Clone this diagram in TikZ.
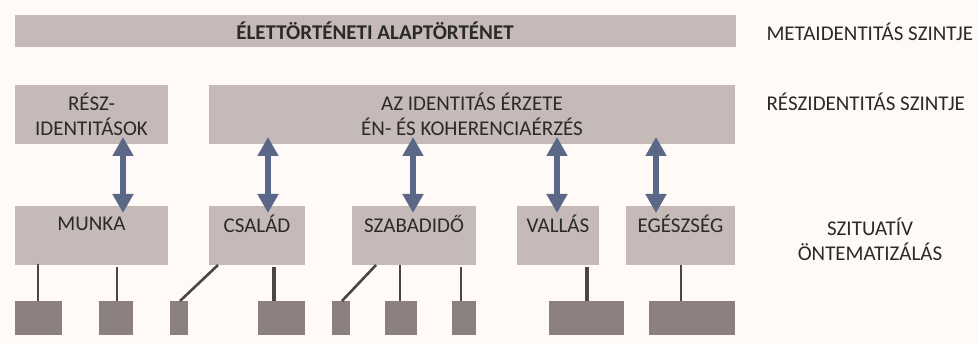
\documentclass[tikz,border=0pt]{standalone}
\usepackage{fontspec}
\setmainfont{Carlito}
\usetikzlibrary{arrows.meta}
\definecolor{bgc}{HTML}{FFFAF7}
\definecolor{boxc}{HTML}{C5BAB7}
\definecolor{darkc}{HTML}{8B807D}
\definecolor{arrc}{HTML}{5A6786}
\definecolor{linec}{HTML}{4A4644}
\definecolor{txtc}{HTML}{2A2A2A}
\begin{document}
\begin{tikzpicture}[x=1pt,y=-1pt,
  every node/.style={font=\fontsize{21}{25}\selectfont, text=txtc},
  dblarrow/.style={draw=arrc, line width=5.5pt, {Triangle[width=20pt,length=19pt]}-{Triangle[width=20pt,length=19pt]}, shorten <=-2pt, shorten >=-2pt},
  conn/.style={draw=linec, line width=2.6pt},
  conthick/.style={draw=linec, line width=3.6pt}
]
\fill[bgc] (0,0) rectangle (977,344);
\useasboundingbox (0,0) rectangle (977,344);

% top bar
\fill[boxc] (15,15) rectangle (736,47);
\node[font=\fontsize{21}{25}\selectfont\bfseries] (meta) at (375,31) {ÉLETTÖRTÉNETI ALAPTÖRTÉNET};
\node[anchor=west] (metal) at (763,32) {METAIDENTITÁS SZINTJE};

% second row
\fill[boxc] (15,85) rectangle (168,144);
\node[align=center, anchor=north] (reszt) at (91.5,89) {RÉSZ-\\IDENTITÁSOK};
\fill[boxc] (209,85) rectangle (735,144);
\node[align=center, anchor=north] (azt) at (472,89) {AZ IDENTITÁS ÉRZETE\\ÉN- ÉS KOHERENCIAÉRZÉS};
\node[anchor=west] (reszl) at (763,102) {RÉSZIDENTITÁS SZINTJE};

% third row boxes
\fill[boxc] (15,206) rectangle (168,265);
\fill[boxc] (209,206) rectangle (305,265);
\fill[boxc] (352,206) rectangle (476,265);
\fill[boxc] (517,206) rectangle (599,265);
\fill[boxc] (626,206) rectangle (735,265);
\node (munka) at (91.5,224) {MUNKA};
\node (csalad) at (257,224) {CSALÁD};
\node (szab) at (414,224) {SZABADIDŐ};
\node (vallas) at (558,224) {VALLÁS};
\node (eg) at (680.5,224) {EGÉSZSÉG};
\node[align=center] (szit) at (870,239) {SZITUATÍV\\ÖNTEMATIZÁLÁS};

% arrows
\coordinate (a1t) at (123,139); \coordinate (a1b) at (123,211);
\coordinate (a2t) at (268,139); \coordinate (a2b) at (268,211);
\coordinate (a3t) at (413,139); \coordinate (a3b) at (413,211);
\coordinate (a4t) at (557,139); \coordinate (a4b) at (557,211);
\coordinate (a5t) at (656,139); \coordinate (a5b) at (656,211);
\foreach \i in {1,...,5} \draw[dblarrow] (a\i t) -- (a\i b);

% bottom boxes
\fill[darkc] (15,301) rectangle (62,335);
\fill[darkc] (99,301) rectangle (133,335);
\fill[darkc] (170,301) rectangle (188,335);
\fill[darkc] (258,301) rectangle (305,335);
\fill[darkc] (332,301) rectangle (350,335);
\fill[darkc] (385,301) rectangle (417,335);
\fill[darkc] (452,301) rectangle (476,335);
\fill[darkc] (549,301) rectangle (624,335);
\fill[darkc] (649,301) rectangle (735,335);

% connectors
\coordinate (m1) at (38,264); \coordinate (b1) at (38,301);
\coordinate (m2) at (117,267); \coordinate (b2) at (117,301);
\coordinate (c1) at (218,265); \coordinate (b3) at (180,301);
\coordinate (c2) at (274,267); \coordinate (b4) at (274,301);
\coordinate (s1) at (376,265); \coordinate (b5) at (342,301);
\coordinate (s2) at (400,265); \coordinate (b6) at (400,301);
\coordinate (s3) at (461,267); \coordinate (b7) at (461,301);
\coordinate (v1) at (587,267); \coordinate (b8) at (587,301);
\coordinate (e1) at (681,265); \coordinate (b9) at (681,301);
\draw[conn] (m1) -- (b1);
\draw[conn] (m2) -- (b2);
\draw[conn] (c1) -- (b3);
\draw[conthick] (c2) -- (b4);
\draw[conn] (s1) -- (b5);
\draw[conn] (s2) -- (b6);
\draw[conn] (s3) -- (b7);
\draw[conthick] (v1) -- (b8);
\draw[conn] (e1) -- (b9);
\end{tikzpicture}
\end{document}
